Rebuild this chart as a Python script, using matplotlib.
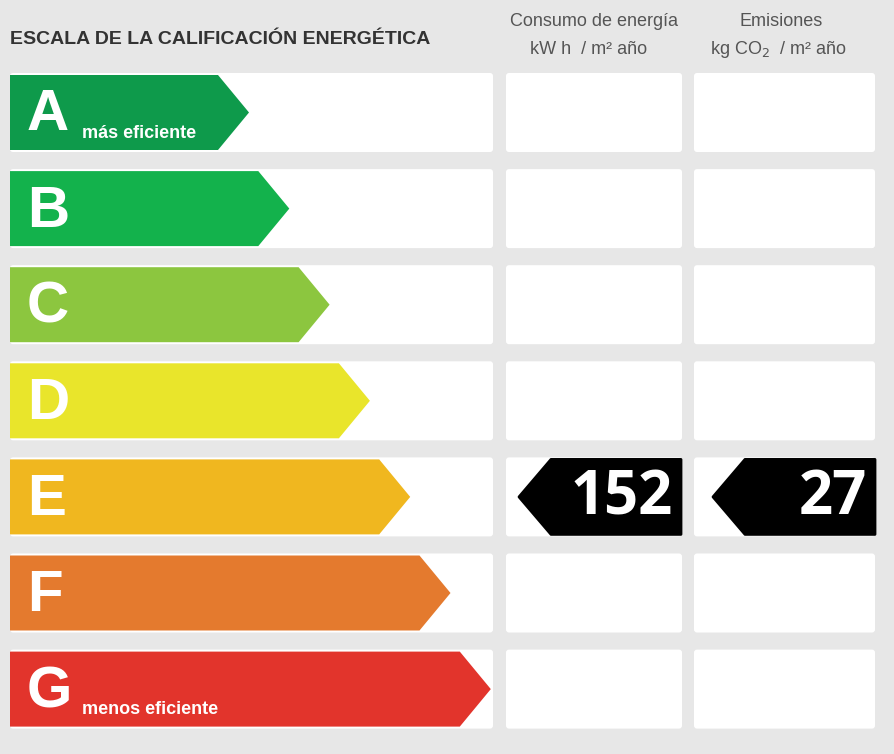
import matplotlib
matplotlib.use("Agg")
import matplotlib.pyplot as plt
from matplotlib.patches import Polygon, FancyBboxPatch, Rectangle

letters = ["A", "B", "C", "D", "E", "F", "G"]
colors = ["#0e9a4b", "#13b24c", "#8cc63f", "#e9e52b", "#f0b71f", "#e47a2e", "#e2342c"]
sublabels = ["más eficiente", "", "", "", "", "", "menos eficiente"]
rating = "E"
consumo = 152
emisiones = 27

W, H = 895, 754
fig = plt.figure(figsize=(W/100, H/100), dpi=100)
fig.patch.set_facecolor("#e7e7e7")
ax = fig.add_axes([0, 0, 1, 1])
ax.set_xlim(0, W); ax.set_ylim(H, 0); ax.axis("off")
fam = ["Liberation Sans", "DejaVu Sans"]

ax.text(10, 39, "ESCALA DE LA CALIFICACIÓN ENERGÉTICA", fontsize=14, fontweight="bold",
        color="#333333", va="center", family=fam)
ax.text(594, 21, "Consumo de energía", fontsize=13, color="#555555", ha="center", va="center", family=fam)
ax.text(589, 50, "kW h  / m² año", fontsize=13, color="#555555", ha="center", va="center", family=fam)
ax.text(781, 21, "Emisiones", fontsize=13, color="#555555", ha="center", va="center", family=fam)
ax.text(778, 50, "kg CO$_2$  / m² año", fontsize=13, color="#555555", ha="center", va="center", family=fam)

pitch, h, top0 = 96.1, 79, 73
for i, (L, c, s) in enumerate(zip(letters, colors, sublabels)):
    y0 = top0 + i*pitch; y1 = y0 + h; ym = (y0 + y1)/2
    for x0, x1 in [(10, 493), (506, 682), (694, 875)]:
        ax.add_patch(FancyBboxPatch((x0, y0), x1-x0, h, boxstyle="round,pad=0,rounding_size=3",
                                    fc="white", ec="none"))
    tip = 249 + 40.3*i
    ax.add_patch(Polygon([(10, y0+2), (tip-31, y0+2), (tip, ym), (tip-31, y1-2), (10, y1-2)],
                         closed=True, fc=c, ec="none", joinstyle="round"))
    ax.text(27, ym+3, L, fontsize=42, fontweight="bold", color="white", va="center", family=fam)
    if s:
        ax.text(82, y1-19, s, fontsize=13, fontweight="bold", color="white", va="center", family=fam)
    if L == rating:
        for (x0, x1, val) in [(519, 681, consumo), (713, 875, emisiones)]:
            ax.add_patch(Polygon([(x0, ym), (x0+32, y0+2), (x1, y0+2), (x1, y1-2), (x0+32, y1-2)],
                                 closed=True, fc="black", ec="black", lw=2, joinstyle="round"))
            ax.text(x1-8, ym+2, str(val), fontsize=43, fontweight="bold", color="white",
                    ha="right", va="center", family=["Open Sans", "DejaVu Sans"])

fig.savefig("out.png", dpi=100, facecolor=fig.get_facecolor())
